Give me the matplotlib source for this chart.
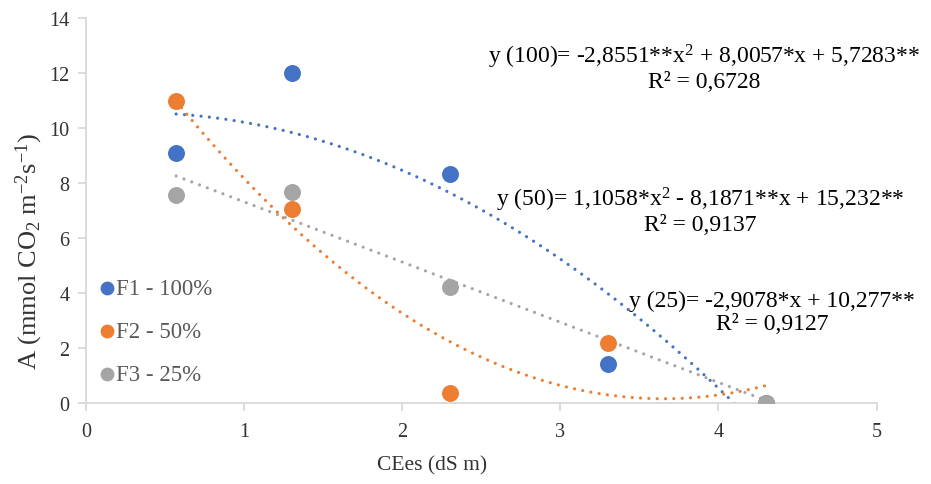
import numpy as np
import matplotlib.pyplot as plt

# CEes levels (dS m)
cees = [0.57, 1.3, 2.3, 3.3, 4.3]

# net photosynthesis A per fertilization level
f1_100 = [9.09, 11.99, 8.30, 1.40, 0.0]
f2_50 = [10.97, 7.04, 0.37, 2.18, 0.0]
f3_25_x = [0.57, 1.3, 2.3, 4.3]
f3_25 = [7.54, 7.68, 4.23, 0.0]

labels = ['F1 - 100%', 'F2 - 50%', 'F3 - 25%']
colors = ['#4472C4', '#ED7D31', '#A5A5A5']

eq_100 = 'y (100)= -2,8551**x$^2$ + 8,0057*x + 5,7283**\nR² = 0,6728'
eq_50 = 'y (50)= 1,1058*x$^2$ - 8,1871**x + 15,232**\nR² = 0,9137'
eq_25 = 'y (25)= -2,9078*x + 10,277**\nR² = 0,9127'

plt.rcParams['font.family'] = ['Liberation Serif', 'DejaVu Serif']
plt.rcParams['mathtext.fontset'] = 'custom'
plt.rcParams['mathtext.rm'] = 'Liberation Serif'
plt.rcParams['mathtext.it'] = 'Liberation Serif'
plt.rcParams['mathtext.default'] = 'regular'

W, H = 931, 485
fig = plt.figure(figsize=(W / 100, H / 100), dpi=100)
ax = fig.add_axes([86 / W, 1 - 404 / H, (876.5 - 86) / W, (404 - 18.5) / H])

series = [(cees, f1_100, 2), (cees, f2_50, 2), (f3_25_x, f3_25, 1)]
for (xs, ys, deg), lab, col in zip(series, labels, colors):
  coef = np.polyfit(xs, ys, deg)
  xx = np.linspace(min(xs), max(xs), 200)
  ax.plot(xx, np.polyval(coef, xx), color=col, lw=2.3, linestyle=(0, (0.01, 2.6)),
          dash_capstyle='round', zorder=2)

ax.scatter(cees, f1_100, s=125, color=colors[0], label=labels[0], zorder=3)
ax.scatter(cees, f2_50, s=125, color=colors[1], label=labels[1], zorder=3)
ax.scatter(f3_25_x, f3_25, s=125, color=colors[2], label=labels[2], zorder=3)

ax.set_xlim(0, 5)
ax.set_ylim(0, 14)
ax.set_xticks(range(0, 6))
ax.set_yticks(range(0, 15, 2))

for s in ['top', 'right']:
  ax.spines[s].set_visible(False)
for s in ['left', 'bottom']:
  ax.spines[s].set_color('#D9D9D9')
  ax.spines[s].set_linewidth(1.3)
ax.tick_params(axis='both', colors='#D9D9D9', labelcolor='#333333', labelsize=14.5,
               length=6, width=1.3, direction='out')
ax.tick_params(axis='x', pad=8)
ax.tick_params(axis='y', pad=6)

ax.set_xlabel('CEes (dS m)', fontsize=15.5, color='#333333')
ax.xaxis.set_label_coords(0.438, -0.135)
ax.set_ylabel('A (mmol CO$_2$ m$^{-2}$s$^{-1}$)', fontsize=19, color='#333333')
ax.yaxis.set_label_coords(-0.052, 0.397)

for txt, cx, cy in [(eq_100, 704, 68), (eq_50, 700, 211), (eq_25, 772, 313)]:
  fig.text(cx, H - cy, txt, transform=None, fontsize=17, ha='center', va='center',
           multialignment='center', color='black', linespacing=1.1)

leg = ax.legend(loc='upper left', bbox_to_anchor=(-0.008, 0.36), frameon=False, fontsize=16.5,
                handletextpad=-0.2, labelspacing=0.95, markerscale=0.8, borderaxespad=0.2,
                handlelength=1.2)
for t in leg.get_texts():
  t.set_color('#595959')

fig.savefig('out.png', dpi=100)
